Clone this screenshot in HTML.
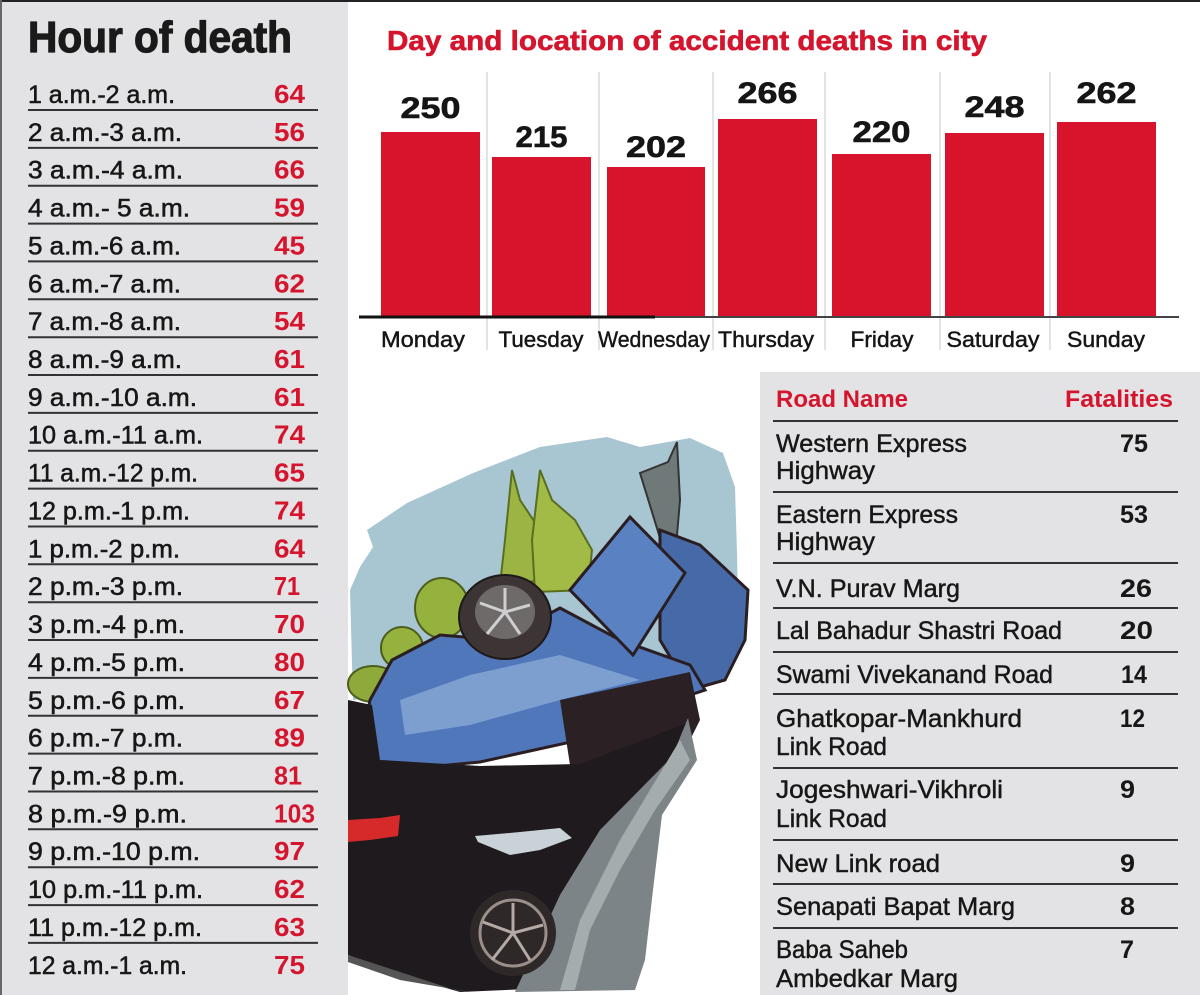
<!DOCTYPE html>
<html><head><meta charset="utf-8"><style>
html,body{margin:0;padding:0;background:#fff;}
svg{display:block;}
text{font-family:"Liberation Sans",Arial,sans-serif;}
.lb{font-size:25px;fill:#171717;stroke:#171717;stroke-width:0.55px;}
.ln{font-size:26px;font-weight:bold;fill:#d4152d;}
.sep{stroke:#333;stroke-width:2;}
.dv{font-size:30px;font-weight:bold;fill:#151515;text-anchor:middle;stroke:#151515;stroke-width:0.6px;}
.dy{font-size:22px;fill:#151515;text-anchor:middle;stroke:#151515;stroke-width:0.45px;}
.rn{font-size:25px;fill:#171717;stroke:#171717;stroke-width:0.45px;}
.rv{font-size:25px;font-weight:bold;fill:#171717;}
</style></head><body>
<svg width="1200" height="995" viewBox="0 0 1200 995" xmlns="http://www.w3.org/2000/svg">
<rect x="0" y="0" width="1200" height="995" fill="#fff"/>
<!-- left panel -->
<rect x="0" y="0" width="348" height="995" fill="#e3e3e5"/>
<rect x="0" y="0" width="1200" height="2" fill="#222"/>
<rect x="0" y="0" width="2" height="995" fill="#666"/>
<text x="28" y="52" font-size="44" font-weight="bold" fill="#1a1a1a" stroke="#1a1a1a" stroke-width="1.2" textLength="264" lengthAdjust="spacingAndGlyphs">Hour of death</text>

<g>
<text class="lb" x="28" y="103" textLength="147" lengthAdjust="spacingAndGlyphs">1 a.m.-2 a.m.</text><text class="ln" x="274" y="103" textLength="31" lengthAdjust="spacingAndGlyphs">64</text>
<text class="lb" x="28" y="140.9" textLength="154" lengthAdjust="spacingAndGlyphs">2 a.m.-3 a.m.</text><text class="ln" x="274" y="140.9" textLength="31" lengthAdjust="spacingAndGlyphs">56</text>
<text class="lb" x="28" y="178.7" textLength="155" lengthAdjust="spacingAndGlyphs">3 a.m.-4 a.m.</text><text class="ln" x="274" y="178.7" textLength="31" lengthAdjust="spacingAndGlyphs">66</text>
<text class="lb" x="28" y="216.6" textLength="162" lengthAdjust="spacingAndGlyphs">4 a.m.- 5 a.m.</text><text class="ln" x="274" y="216.6" textLength="31" lengthAdjust="spacingAndGlyphs">59</text>
<text class="lb" x="28" y="254.4" textLength="153" lengthAdjust="spacingAndGlyphs">5 a.m.-6 a.m.</text><text class="ln" x="274" y="254.4" textLength="31" lengthAdjust="spacingAndGlyphs">45</text>
<text class="lb" x="28" y="292.3" textLength="153" lengthAdjust="spacingAndGlyphs">6 a.m.-7 a.m.</text><text class="ln" x="274" y="292.3" textLength="31" lengthAdjust="spacingAndGlyphs">62</text>
<text class="lb" x="28" y="330.2" textLength="153" lengthAdjust="spacingAndGlyphs">7 a.m.-8 a.m.</text><text class="ln" x="274" y="330.2" textLength="31" lengthAdjust="spacingAndGlyphs">54</text>
<text class="lb" x="28" y="368" textLength="154" lengthAdjust="spacingAndGlyphs">8 a.m.-9 a.m.</text><text class="ln" x="274" y="368" textLength="31" lengthAdjust="spacingAndGlyphs">61</text>
<text class="lb" x="28" y="405.9" textLength="169" lengthAdjust="spacingAndGlyphs">9 a.m.-10 a.m.</text><text class="ln" x="274" y="405.9" textLength="31" lengthAdjust="spacingAndGlyphs">61</text>
<text class="lb" x="28" y="443.7" textLength="175" lengthAdjust="spacingAndGlyphs">10 a.m.-11 a.m.</text><text class="ln" x="274" y="443.7" textLength="31" lengthAdjust="spacingAndGlyphs">74</text>
<text class="lb" x="28" y="481.6" textLength="170" lengthAdjust="spacingAndGlyphs">11 a.m.-12 p.m.</text><text class="ln" x="274" y="481.6" textLength="31" lengthAdjust="spacingAndGlyphs">65</text>
<text class="lb" x="28" y="519.5" textLength="162" lengthAdjust="spacingAndGlyphs">12 p.m.-1 p.m.</text><text class="ln" x="274" y="519.5" textLength="31" lengthAdjust="spacingAndGlyphs">74</text>
<text class="lb" x="28" y="557.3" textLength="152" lengthAdjust="spacingAndGlyphs">1 p.m.-2 p.m.</text><text class="ln" x="274" y="557.3" textLength="31" lengthAdjust="spacingAndGlyphs">64</text>
<text class="lb" x="28" y="595.2" textLength="155" lengthAdjust="spacingAndGlyphs">2 p.m.-3 p.m.</text><text class="ln" x="274" y="595.2" textLength="26" lengthAdjust="spacingAndGlyphs">71</text>
<text class="lb" x="28" y="633" textLength="157" lengthAdjust="spacingAndGlyphs">3 p.m.-4 p.m.</text><text class="ln" x="274" y="633" textLength="31" lengthAdjust="spacingAndGlyphs">70</text>
<text class="lb" x="28" y="670.9" textLength="157" lengthAdjust="spacingAndGlyphs">4 p.m.-5 p.m.</text><text class="ln" x="274" y="670.9" textLength="31" lengthAdjust="spacingAndGlyphs">80</text>
<text class="lb" x="28" y="708.8" textLength="157" lengthAdjust="spacingAndGlyphs">5 p.m.-6 p.m.</text><text class="ln" x="274" y="708.8" textLength="31" lengthAdjust="spacingAndGlyphs">67</text>
<text class="lb" x="28" y="746.6" textLength="155" lengthAdjust="spacingAndGlyphs">6 p.m.-7 p.m.</text><text class="ln" x="274" y="746.6" textLength="31" lengthAdjust="spacingAndGlyphs">89</text>
<text class="lb" x="28" y="784.5" textLength="157" lengthAdjust="spacingAndGlyphs">7 p.m.-8 p.m.</text><text class="ln" x="274" y="784.5" textLength="28" lengthAdjust="spacingAndGlyphs">81</text>
<text class="lb" x="28" y="822.3" textLength="159" lengthAdjust="spacingAndGlyphs">8 p.m.-9 p.m.</text><text class="ln" x="274" y="822.3" textLength="41" lengthAdjust="spacingAndGlyphs">103</text>
<text class="lb" x="28" y="860.2" textLength="172" lengthAdjust="spacingAndGlyphs">9 p.m.-10 p.m.</text><text class="ln" x="274" y="860.2" textLength="31" lengthAdjust="spacingAndGlyphs">97</text>
<text class="lb" x="28" y="898.1" textLength="175" lengthAdjust="spacingAndGlyphs">10 p.m.-11 p.m.</text><text class="ln" x="274" y="898.1" textLength="31" lengthAdjust="spacingAndGlyphs">62</text>
<text class="lb" x="28" y="935.9" textLength="174" lengthAdjust="spacingAndGlyphs">11 p.m.-12 p.m.</text><text class="ln" x="274" y="935.9" textLength="31" lengthAdjust="spacingAndGlyphs">63</text>
<text class="lb" x="28" y="973.8" textLength="159" lengthAdjust="spacingAndGlyphs">12 a.m.-1 a.m.</text><text class="ln" x="274" y="973.8" textLength="31" lengthAdjust="spacingAndGlyphs">75</text>
</g>
<g class="sep">
<line x1="28" x2="318" y1="110" y2="110"/>
<line x1="28" x2="318" y1="147.9" y2="147.9"/>
<line x1="28" x2="318" y1="185.7" y2="185.7"/>
<line x1="28" x2="318" y1="223.6" y2="223.6"/>
<line x1="28" x2="318" y1="261.4" y2="261.4"/>
<line x1="28" x2="318" y1="299.3" y2="299.3"/>
<line x1="28" x2="318" y1="337.2" y2="337.2"/>
<line x1="28" x2="318" y1="375" y2="375"/>
<line x1="28" x2="318" y1="412.9" y2="412.9"/>
<line x1="28" x2="318" y1="450.7" y2="450.7"/>
<line x1="28" x2="318" y1="488.6" y2="488.6"/>
<line x1="28" x2="318" y1="526.5" y2="526.5"/>
<line x1="28" x2="318" y1="564.3" y2="564.3"/>
<line x1="28" x2="318" y1="602.2" y2="602.2"/>
<line x1="28" x2="318" y1="640" y2="640"/>
<line x1="28" x2="318" y1="677.9" y2="677.9"/>
<line x1="28" x2="318" y1="715.8" y2="715.8"/>
<line x1="28" x2="318" y1="753.6" y2="753.6"/>
<line x1="28" x2="318" y1="791.5" y2="791.5"/>
<line x1="28" x2="318" y1="829.3" y2="829.3"/>
<line x1="28" x2="318" y1="867.2" y2="867.2"/>
<line x1="28" x2="318" y1="905.1" y2="905.1"/>
<line x1="28" x2="318" y1="942.9" y2="942.9"/>
</g>

<!-- bar chart -->
<text x="387" y="50" font-size="28" font-weight="bold" fill="#d4152d" stroke="#d4152d" stroke-width="0.6" textLength="600" lengthAdjust="spacingAndGlyphs">Day and location of accident deaths in city</text>
<g stroke="#c8c8c8" stroke-width="1">
<line x1="487" x2="487" y1="72" y2="350"/>
<line x1="599" x2="599" y1="72" y2="350"/>
<line x1="713" x2="713" y1="72" y2="350"/>
<line x1="825" x2="825" y1="72" y2="350"/>
<line x1="940" x2="940" y1="72" y2="350"/>
<line x1="1050" x2="1050" y1="72" y2="350"/>
</g>
<g fill="#d7142b">
<rect x="381" y="132" width="99" height="185"/>
<rect x="492" y="157" width="99" height="160"/>
<rect x="607" y="167" width="98" height="150"/>
<rect x="718" y="119" width="99" height="198"/>
<rect x="832" y="154" width="99" height="163"/>
<rect x="945" y="133" width="99" height="184"/>
<rect x="1057" y="122" width="99" height="195"/>
</g>
<rect x="359" y="316" width="820" height="2" fill="#444"/>
<rect x="359" y="315.5" width="296" height="3" fill="#111"/>
<text class="dv" x="430.5" y="118" textLength="60" lengthAdjust="spacingAndGlyphs">250</text>
<text class="dv" x="541.5" y="147" textLength="52" lengthAdjust="spacingAndGlyphs">215</text>
<text class="dv" x="656" y="157" textLength="60" lengthAdjust="spacingAndGlyphs">202</text>
<text class="dv" x="767.5" y="103" textLength="60" lengthAdjust="spacingAndGlyphs">266</text>
<text class="dv" x="881.5" y="142" textLength="58" lengthAdjust="spacingAndGlyphs">220</text>
<text class="dv" x="994.5" y="117" textLength="60" lengthAdjust="spacingAndGlyphs">248</text>
<text class="dv" x="1106.5" y="103" textLength="60" lengthAdjust="spacingAndGlyphs">262</text>

<text class="dy" x="423" y="347" textLength="84" lengthAdjust="spacingAndGlyphs">Monday</text>
<text class="dy" x="541" y="347" textLength="85" lengthAdjust="spacingAndGlyphs">Tuesday</text>
<text class="dy" x="654" y="347" textLength="112" lengthAdjust="spacingAndGlyphs">Wednesday</text>
<text class="dy" x="766" y="347" textLength="96" lengthAdjust="spacingAndGlyphs">Thursday</text>
<text class="dy" x="882" y="347" textLength="63" lengthAdjust="spacingAndGlyphs">Friday</text>
<text class="dy" x="993" y="347" textLength="93" lengthAdjust="spacingAndGlyphs">Saturday</text>
<text class="dy" x="1106" y="347" textLength="78" lengthAdjust="spacingAndGlyphs">Sunday</text>

<!-- illustration -->
<g>
<path d="M353,700 L350,590 L360,567 L373,547 L367,530 L407,503 L473,473 L540,447 L607,437 L640,447 L690,438 L723,453 L735,487 L737,553 L738,600 L700,660 L560,640 L420,690 Z" fill="#a8c6d2"/>
<!-- trees -->
<path d="M512,470 L520,500 L540,530 L545,580 L500,585 L505,540 Z" fill="#9cb443" stroke="#5a6e20" stroke-width="2"/>
<path d="M540,470 L552,500 L575,520 L592,550 L588,590 L535,592 L532,540 Z" fill="#a2ba46" stroke="#5a6e20" stroke-width="2"/>
<ellipse cx="442" cy="608" rx="27" ry="30" fill="#96b23e" stroke="#4d5e1c" stroke-width="2"/>
<ellipse cx="402" cy="648" rx="21" ry="21" fill="#96b23e" stroke="#4d5e1c" stroke-width="2"/>
<ellipse cx="373" cy="684" rx="25" ry="18" fill="#8eaa3a" stroke="#4d5e1c" stroke-width="2"/>
<!-- gray pole -->
<path d="M640,473 L668,462 L677,442 L680,500 L677,535 L660,538 Z" fill="#6f7a78" stroke="#333" stroke-width="2"/>
<!-- car front right -->
<path d="M660,530 L700,545 L748,590 L745,640 L725,680 L690,690 L660,640 Z" fill="#466aa8" stroke="#2a1e22" stroke-width="3"/>
<!-- car body -->
<path d="M370,700 L392,660 L440,635 L500,640 L560,608 L620,640 L690,665 L705,690 L660,705 L580,740 L480,762 L395,770 L360,755 Z" fill="#5077b9" stroke="#2a1e22" stroke-width="3"/>
<path d="M400,700 L470,675 L560,655 L640,680 L560,700 L470,725 L405,735 Z" fill="#8fb0da" opacity="0.7"/>
<path d="M560,700 L690,672 L700,720 L680,760 L570,765 Z" fill="#2b2024"/>
<!-- door -->
<path d="M570,590 L630,517 L685,573 L633,655 Z" fill="#5a82c2" stroke="#2a1e22" stroke-width="3"/>
<!-- wheel 1 -->
<ellipse cx="505" cy="617" rx="46" ry="42" fill="#3d3535" stroke="#1e1818" stroke-width="2"/>
<ellipse cx="505" cy="612" rx="30" ry="27" fill="#6e6a6a"/>
<g stroke="#cfcfcf" stroke-width="3"><line x1="505" y1="612" x2="505" y2="588"/><line x1="505" y1="612" x2="530" y2="605"/><line x1="505" y1="612" x2="520" y2="634"/><line x1="505" y1="612" x2="487" y2="634"/><line x1="505" y1="612" x2="480" y2="603"/></g>
<!-- black mass -->
<path d="M348,700 L372,705 L380,760 L480,766 L580,764 L690,722 L688,765 L650,820 L630,900 L620,985 L460,992 L400,975 L348,955 Z" fill="#1f1a1d"/>
<path d="M348,955 L400,972 L455,990 L470,992 L400,980 L348,962 Z" fill="#555"/>
<!-- gray cliff -->
<path d="M688,718 L697,760 L662,815 L653,890 L645,960 L635,990 L515,992 L560,895 L600,830 L672,757 Z" fill="#7d8488"/>
<path d="M680,740 L690,760 L655,810 L620,870 L590,930 L575,990 L560,990 L580,920 L620,840 Z" fill="#a4acae"/>
<!-- red streak & white streaks -->
<path d="M348,820 L380,818 L400,815 L398,836 L370,840 L348,842 Z" fill="#d62a2a"/>
<path d="M475,836 L520,832 L560,828 L572,838 L540,850 L510,855 L478,842 Z" fill="#c9d2d6"/>
<!-- wheel 2 -->
<ellipse cx="513" cy="933" rx="43" ry="43" fill="#2f2828"/>
<ellipse cx="513" cy="933" rx="33" ry="33" fill="none" stroke="#9a8f8a" stroke-width="3"/>
<g stroke="#b5aaa5" stroke-width="3"><line x1="513" y1="933" x2="513" y2="903"/><line x1="513" y1="933" x2="543" y2="925"/><line x1="513" y1="933" x2="530" y2="960"/><line x1="513" y1="933" x2="492" y2="960"/><line x1="513" y1="933" x2="483" y2="922"/></g>
</g>

<!-- road table -->
<rect x="760" y="372" width="440" height="623" fill="#e3e3e5"/>
<text x="776" y="407" font-size="24" font-weight="bold" fill="#d4152d" textLength="132" lengthAdjust="spacingAndGlyphs">Road Name</text>
<text x="1065" y="407" font-size="24" font-weight="bold" fill="#d4152d" textLength="108" lengthAdjust="spacingAndGlyphs">Fatalities</text>
<g class="sep">
<line x1="773" x2="1178" y1="421" y2="421"/>
<line x1="773" x2="1178" y1="492" y2="492"/>
<line x1="773" x2="1178" y1="563" y2="563"/>
<line x1="773" x2="1178" y1="608" y2="608"/>
<line x1="773" x2="1178" y1="652" y2="652"/>
<line x1="773" x2="1178" y1="694" y2="694"/>
<line x1="773" x2="1178" y1="768" y2="768"/>
<line x1="773" x2="1178" y1="840" y2="840"/>
<line x1="773" x2="1178" y1="884" y2="884"/>
<line x1="773" x2="1178" y1="928" y2="928"/>
</g>
<text class="rn" x="776" y="452" textLength="191" lengthAdjust="spacingAndGlyphs">Western Express</text>
<text class="rn" x="776" y="479" textLength="99" lengthAdjust="spacingAndGlyphs">Highway</text>
<text class="rv" x="1120" y="452" textLength="28" lengthAdjust="spacingAndGlyphs">75</text>
<text class="rn" x="776" y="523" textLength="182" lengthAdjust="spacingAndGlyphs">Eastern Express</text>
<text class="rn" x="776" y="550" textLength="99" lengthAdjust="spacingAndGlyphs">Highway</text>
<text class="rv" x="1120" y="523" textLength="28" lengthAdjust="spacingAndGlyphs">53</text>
<text class="rn" x="776" y="597" textLength="184" lengthAdjust="spacingAndGlyphs">V.N. Purav Marg</text>
<text class="rv" x="1120" y="597" textLength="32" lengthAdjust="spacingAndGlyphs">26</text>
<text class="rn" x="776" y="639" textLength="286" lengthAdjust="spacingAndGlyphs">Lal Bahadur Shastri Road</text>
<text class="rv" x="1120" y="639" textLength="33" lengthAdjust="spacingAndGlyphs">20</text>
<text class="rn" x="776" y="683" textLength="277" lengthAdjust="spacingAndGlyphs">Swami Vivekanand Road</text>
<text class="rv" x="1121" y="683" textLength="26" lengthAdjust="spacingAndGlyphs">14</text>
<text class="rn" x="776" y="727" textLength="246" lengthAdjust="spacingAndGlyphs">Ghatkopar-Mankhurd</text>
<text class="rn" x="776" y="755" textLength="111" lengthAdjust="spacingAndGlyphs">Link Road</text>
<text class="rv" x="1120" y="727" textLength="25" lengthAdjust="spacingAndGlyphs">12</text>
<text class="rn" x="776" y="798" textLength="227" lengthAdjust="spacingAndGlyphs">Jogeshwari-Vikhroli</text>
<text class="rn" x="776" y="827" textLength="111" lengthAdjust="spacingAndGlyphs">Link Road</text>
<text class="rv" x="1120" y="798" textLength="15" lengthAdjust="spacingAndGlyphs">9</text>
<text class="rn" x="776" y="872" textLength="164" lengthAdjust="spacingAndGlyphs">New Link road</text>
<text class="rv" x="1120" y="872" textLength="15" lengthAdjust="spacingAndGlyphs">9</text>
<text class="rn" x="776" y="915" textLength="239" lengthAdjust="spacingAndGlyphs">Senapati Bapat Marg</text>
<text class="rv" x="1120" y="915" textLength="15" lengthAdjust="spacingAndGlyphs">8</text>
<text class="rn" x="776" y="958" textLength="132" lengthAdjust="spacingAndGlyphs">Baba Saheb</text>
<text class="rn" x="776" y="987" textLength="182" lengthAdjust="spacingAndGlyphs">Ambedkar Marg</text>
<text class="rv" x="1120" y="958" textLength="14" lengthAdjust="spacingAndGlyphs">7</text>
</svg>
</body></html>
